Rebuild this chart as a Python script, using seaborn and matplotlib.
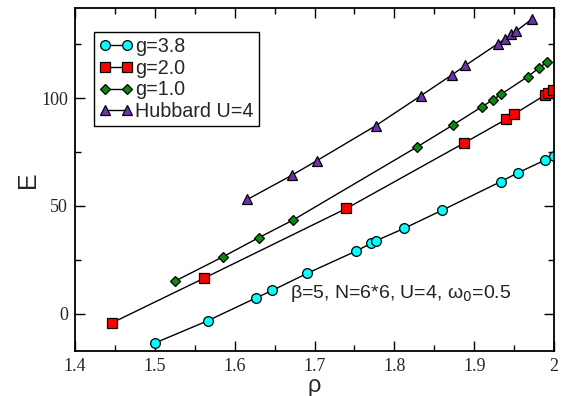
import matplotlib
matplotlib.use("Agg")
import matplotlib.pyplot as plt
import seaborn as sns
import pandas as pd
from matplotlib.ticker import MultipleLocator, FixedLocator

# ---- data ----
rho_g38 = [1.500, 1.566, 1.627, 1.647, 1.691, 1.752, 1.771, 1.777, 1.812, 1.860, 1.933, 1.955, 1.989, 2.000]
E_g38   = [-13.7, -3.4, 7.3, 10.7, 18.7, 29.0, 32.6, 33.8, 39.5, 48.0, 61.2, 65.4, 71.3, 73.3]

rho_g20 = [1.446, 1.561, 1.740, 1.887, 1.940, 1.950, 1.989, 1.993, 1.999]
E_g20   = [-4.4, 16.3, 48.8, 79.1, 90.2, 92.6, 101.5, 102.6, 103.9]

rho_g10 = [1.525, 1.585, 1.630, 1.673, 1.829, 1.874, 1.910, 1.924, 1.934, 1.967, 1.981, 1.991]
E_g10   = [15.0, 26.3, 35.2, 43.4, 77.5, 87.7, 96.1, 99.4, 101.9, 110.0, 114.0, 116.7]

rho_hub = [1.616, 1.672, 1.703, 1.777, 1.833, 1.872, 1.889, 1.930, 1.938, 1.946, 1.953, 1.973]
E_hub   = [53.0, 64.3, 71.0, 87.3, 101.1, 110.8, 115.2, 125.4, 127.4, 129.6, 131.3, 136.9]

labels = ["g=3.8", "g=2.0", "g=1.0", "Hubbard U=4"]
xticklabels = ["1.4", "1.5", "1.6", "1.7", "1.8", "1.9", "2"]
yticklabels = ["0", "50", "100"]

series = [
    (rho_g38, E_g38, labels[0], "o", "#00ffff", 7.0),
    (rho_g20, E_g20, labels[1], "s", "#ff0000", 6.5),
    (rho_g10, E_g10, labels[2], "D", "#0b8a0b", 5.5),
    (rho_hub, E_hub, labels[3], "^", "#7030b0", 7.0),
]

sns.set_style("ticks")
plt.rcParams["font.family"] = ["Liberation Sans", "DejaVu Sans"]

fig = plt.figure(figsize=(5.69, 3.96), dpi=100)
ax = fig.add_axes([75/569, 1-351/396, (554-75)/569, (351-8)/396])

for x, y, lab, mk, col, ms in series:
    df = pd.DataFrame({"rho": x, "E": y})
    sns.lineplot(data=df, x="rho", y="E", ax=ax, sort=False, estimator=None,
                 color="black", lw=1.0, marker=mk, markersize=ms,
                 markerfacecolor=col, markeredgecolor="black", markeredgewidth=0.9,
                 label=lab)

ax.set_xlim(1.4, 2.0)
ax.set_ylim(-17.4, 141.9)
ax.xaxis.set_major_locator(FixedLocator([1.4, 1.5, 1.6, 1.7, 1.8, 1.9, 2.0]))
ax.set_xticklabels(xticklabels)
ax.xaxis.set_minor_locator(MultipleLocator(0.05))
ax.yaxis.set_major_locator(FixedLocator([0, 50, 100]))
ax.set_yticklabels(yticklabels)
ax.yaxis.set_minor_locator(MultipleLocator(25))
ax.tick_params(which="both", direction="in", top=True, right=True, width=1.0, color="black")
ax.tick_params(which="major", length=7, labelsize=13, pad=5)
ax.tick_params(which="minor", length=4)
for lbl in ax.get_xticklabels() + ax.get_yticklabels():
    lbl.set_family(["Liberation Serif", "DejaVu Serif"])
for sp in ax.spines.values():
    sp.set_linewidth(1.3)
    sp.set_color("black")

ax.set_xlabel("ρ", fontsize=17, labelpad=0)
ax.set_ylabel("E", fontsize=18, labelpad=1)

ax.text(1.669, 9.4, r"β=5, N=6*6, U=4, ω$_0$=0.5", fontsize=14, va="center", ha="left",
        color="#222222")

leg = ax.legend(loc="upper left", bbox_to_anchor=((94-75)/479, 1-(32-8)/343),
                numpoints=2, fontsize=14.2, frameon=True, fancybox=False,
                handlelength=1.7, handletextpad=0.15, borderpad=0.25, labelspacing=0.14,
                borderaxespad=0)
leg.get_frame().set_edgecolor("black")
leg.get_frame().set_linewidth(1.0)
leg.get_frame().set_alpha(1)

fig.savefig("out.png", dpi=100)
